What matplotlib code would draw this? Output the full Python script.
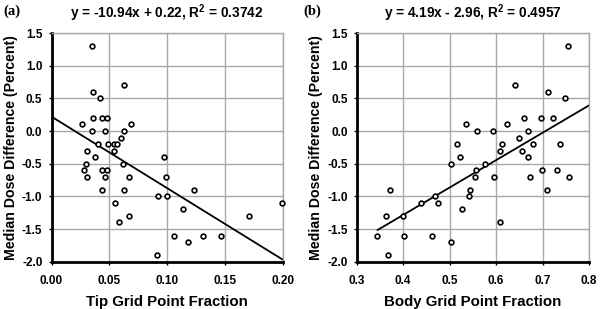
import matplotlib
matplotlib.use("Agg")
import matplotlib.pyplot as plt
import numpy as np

# Panel (a) data
tip_x = [0.035, 0.0625, 0.036, 0.042, 0.036, 0.044, 0.048, 0.026, 0.069, 0.035,
         0.046, 0.063, 0.060, 0.040, 0.049, 0.054, 0.057, 0.031, 0.054, 0.038,
         0.097, 0.030, 0.062, 0.028, 0.044, 0.048, 0.031, 0.046, 0.067, 0.099,
         0.044, 0.063, 0.123, 0.092, 0.100, 0.055, 0.114, 0.067, 0.058, 0.106,
         0.118, 0.131, 0.091, 0.147, 0.171, 0.199]
tip_y = [1.3, 0.7, 0.6, 0.5, 0.2, 0.2, 0.2, 0.1, 0.1, 0.0,
         0.0, 0.0, -0.1, -0.2, -0.2, -0.2, -0.2, -0.3, -0.3, -0.4,
         -0.4, -0.5, -0.5, -0.6, -0.6, -0.6, -0.7, -0.7, -0.7, -0.7,
         -0.9, -0.9, -0.9, -1.0, -1.0, -1.1, -1.2, -1.3, -1.4, -1.6,
         -1.7, -1.6, -1.9, -1.6, -1.3, -1.1]
tip_slope, tip_icpt = -10.94, 0.22
tip_fit_range = [0.0, 0.20]

# Panel (b) data
body_x = [0.535, 0.559, 0.515, 0.523, 0.504, 0.556, 0.554, 0.544, 0.542, 0.526,
          0.371, 0.362, 0.399, 0.438, 0.468, 0.476, 0.344, 0.401, 0.462, 0.502,
          0.368, 0.754, 0.640, 0.711, 0.748, 0.660, 0.696, 0.723, 0.623, 0.594,
          0.669, 0.650, 0.613, 0.680, 0.737, 0.609, 0.656, 0.668, 0.576, 0.596,
          0.674, 0.698, 0.732, 0.757, 0.709, 0.608]
body_y = [0.1, 0.0, -0.2, -0.4, -0.5, -0.6, -0.7, -0.9, -1.0, -1.2,
          -0.9, -1.3, -1.3, -1.1, -1.0, -1.1, -1.6, -1.6, -1.6, -1.7,
          -1.9, 1.3, 0.7, 0.6, 0.5, 0.2, 0.2, 0.2, 0.1, 0.0,
          0.0, -0.1, -0.2, -0.2, -0.2, -0.3, -0.3, -0.4, -0.5, -0.7,
          -0.7, -0.6, -0.6, -0.7, -0.9, -1.4]
body_slope, body_icpt = 4.19, -2.96
body_fit_range = [0.345, 0.80]

tip_xticks = [0.00, 0.05, 0.10, 0.15, 0.20]
tip_xticklabels = ["0.00", "0.05", "0.10", "0.15", "0.20"]
body_xticks = [0.3, 0.4, 0.5, 0.6, 0.7, 0.8]
body_xticklabels = ["0.3", "0.4", "0.5", "0.6", "0.7", "0.8"]
yticks = [-2.0, -1.5, -1.0, -0.5, 0.0, 0.5, 1.0, 1.5]
yticklabels = ["-2.0", "-1.5", "-1.0", "-0.5", "0.0", "0.5", "1.0", "1.5"]

titles = ["y = -10.94x + 0.22, R$^{\\mathbf{2}}$ = 0.3742",
          "y = 4.19x - 2.96, R$^{\\mathbf{2}}$ = 0.4957"]
xlabels = ["Tip Grid Point Fraction", "Body Grid Point Fraction"]
ylabel = "Median Dose Difference (Percent)"
panel_tags = ["(a)", "(b)"]

plt.rcParams['font.family'] = ['Liberation Sans', 'DejaVu Sans']
plt.rcParams['mathtext.fontset'] = 'custom'
plt.rcParams['mathtext.bf'] = 'Liberation Sans:bold'
plt.rcParams['mathtext.rm'] = 'Liberation Sans:bold'

fig = plt.figure(figsize=(6.0, 3.09), dpi=100)
W, H = 600, 309
ax_a = fig.add_axes([51.5 / W, 1 - 261.7 / H, (282.7 - 51.5) / W, (261.7 - 33) / H])
ax_b = fig.add_axes([356.7 / W, 1 - 261.7 / H, (589 - 356.7) / W, (261.7 - 33) / H])

grid_col = "#a8a8a8"
panels = [
    (ax_a, tip_x, tip_y, tip_slope, tip_icpt, tip_fit_range, tip_xticks, tip_xticklabels, (0.0, 0.20)),
    (ax_b, body_x, body_y, body_slope, body_icpt, body_fit_range, body_xticks, body_xticklabels, (0.3, 0.8)),
]
for i, (ax, xs, ys, m, b, fr, xt, xtl, xlim) in enumerate(panels):
    ax.set_xlim(*xlim)
    ax.set_ylim(-2.0, 1.5)
    ax.set_xticks(xt)
    ax.set_xticklabels(xtl, fontsize=8.5, fontweight='bold')
    ax.set_yticks(yticks)
    ax.set_yticklabels(yticklabels, fontsize=8.5, fontweight='bold')
    ax.grid(True, color=grid_col, linewidth=1.0)
    ax.set_axisbelow(True)
    for s in ['top', 'right']:
        ax.spines[s].set_color(grid_col)
        ax.spines[s].set_linewidth(1.0)
    for s in ['left', 'bottom']:
        ax.spines[s].set_color('black')
        ax.spines[s].set_linewidth(2.0)
    ax.tick_params(direction='out', length=2.5, width=1, colors='black')
    ax.tick_params(axis='x', pad=7)
    ax.tick_params(axis='y', pad=4)
    fx = np.array(fr)
    ax.plot(fx, m * fx + b, color='black', linewidth=1.3, zorder=2)
    ax.plot(xs, ys, linestyle='none', marker='o', markersize=3.4,
            markerfacecolor='white', markeredgecolor='black', markeredgewidth=1.2,
            zorder=3, clip_on=False)
    ax.set_xlabel(xlabels[i], fontsize=10.8, fontweight='bold', labelpad=6)
    ax.set_ylabel(ylabel, fontsize=10.2, fontweight='bold', labelpad=3)
    ax.set_title(titles[i], fontsize=9.8, fontweight='bold', pad=11)

fig.text(3 / W, 1 - 11 / H, panel_tags[0], fontsize=10.5, family='Liberation Serif',
         fontweight='bold', va='center', ha='left')
fig.text(303 / W, 1 - 11 / H, panel_tags[1], fontsize=10.5, family='Liberation Serif',
         fontweight='bold', va='center', ha='left')

fig.savefig("out.png", dpi=100)
